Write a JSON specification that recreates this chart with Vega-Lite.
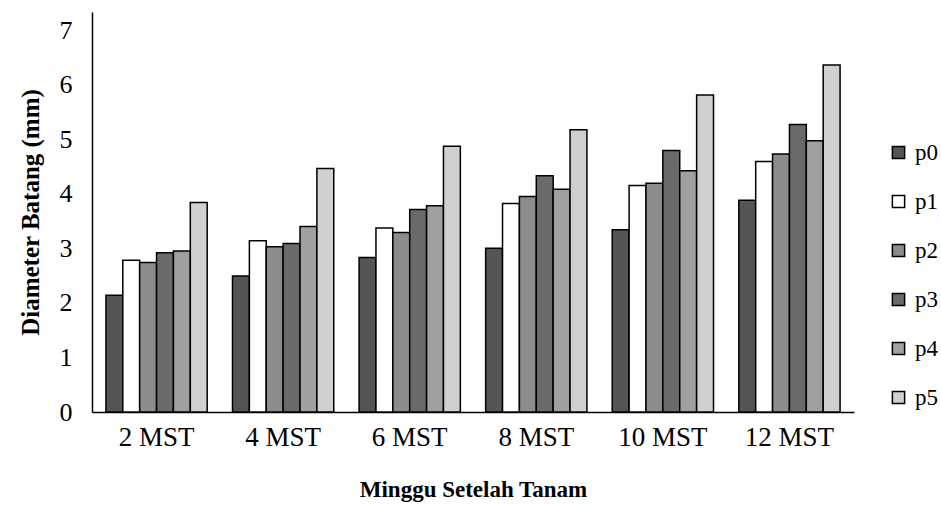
{
  "$schema": "https://vega.github.io/schema/vega-lite/v6.json",
  "width": 762,
  "height": 400,
  "autosize": {"type": "none"},
  "padding": {"left": 92, "top": 12, "right": 87, "bottom": 94},
  "background": "white",
  "config": {
    "view": {"stroke": null},
    "font": "Liberation Serif"
  },
  "data": {
    "values": [
      {"week": "2 MST", "p": "p0", "v": 2.14},
      {"week": "2 MST", "p": "p1", "v": 2.78},
      {"week": "2 MST", "p": "p2", "v": 2.74},
      {"week": "2 MST", "p": "p3", "v": 2.92},
      {"week": "2 MST", "p": "p4", "v": 2.95},
      {"week": "2 MST", "p": "p5", "v": 3.84},
      {"week": "4 MST", "p": "p0", "v": 2.49},
      {"week": "4 MST", "p": "p1", "v": 3.14},
      {"week": "4 MST", "p": "p2", "v": 3.03},
      {"week": "4 MST", "p": "p3", "v": 3.09},
      {"week": "4 MST", "p": "p4", "v": 3.40},
      {"week": "4 MST", "p": "p5", "v": 4.46},
      {"week": "6 MST", "p": "p0", "v": 2.83},
      {"week": "6 MST", "p": "p1", "v": 3.37},
      {"week": "6 MST", "p": "p2", "v": 3.29},
      {"week": "6 MST", "p": "p3", "v": 3.71},
      {"week": "6 MST", "p": "p4", "v": 3.78},
      {"week": "6 MST", "p": "p5", "v": 4.87},
      {"week": "8 MST", "p": "p0", "v": 3.00},
      {"week": "8 MST", "p": "p1", "v": 3.82},
      {"week": "8 MST", "p": "p2", "v": 3.95},
      {"week": "8 MST", "p": "p3", "v": 4.33},
      {"week": "8 MST", "p": "p4", "v": 4.08},
      {"week": "8 MST", "p": "p5", "v": 5.17},
      {"week": "10 MST", "p": "p0", "v": 3.34},
      {"week": "10 MST", "p": "p1", "v": 4.15},
      {"week": "10 MST", "p": "p2", "v": 4.19},
      {"week": "10 MST", "p": "p3", "v": 4.79},
      {"week": "10 MST", "p": "p4", "v": 4.42},
      {"week": "10 MST", "p": "p5", "v": 5.81},
      {"week": "12 MST", "p": "p0", "v": 3.88},
      {"week": "12 MST", "p": "p1", "v": 4.59},
      {"week": "12 MST", "p": "p2", "v": 4.73},
      {"week": "12 MST", "p": "p3", "v": 5.27},
      {"week": "12 MST", "p": "p4", "v": 4.97},
      {"week": "12 MST", "p": "p5", "v": 6.36}
    ]
  },
  "mark": {"type": "bar", "stroke": "black", "strokeWidth": 1.5},
  "encoding": {
    "x": {
      "field": "week",
      "type": "nominal",
      "sort": null,
      "scale": {"paddingInner": 0.2, "paddingOuter": 0.11},
      "axis": {
        "title": "Minggu Setelah Tanam",
        "titleFont": "Liberation Serif",
        "titleFontSize": 23,
        "titleFontWeight": "bold",
        "titleColor": "black",
        "titlePadding": 28,
        "labelAngle": 0,
        "labelFont": "Liberation Serif",
        "labelFontSize": 27,
        "labelColor": "black",
        "labelPadding": 12,
        "ticks": false,
        "domainColor": "black",
        "domainWidth": 1.5
      }
    },
    "xOffset": {"field": "p", "type": "nominal", "scale": {"paddingInner": 0}},
    "y": {
      "field": "v",
      "type": "quantitative",
      "scale": {"domain": [0, 7.33], "nice": false},
      "axis": {
        "title": "Diameter Batang (mm)",
        "titleFont": "Liberation Serif",
        "titleFontSize": 25,
        "titleFontWeight": "bold",
        "titleColor": "black",
        "titlePadding": 16,
        "values": [0, 1, 2, 3, 4, 5, 6, 7],
        "grid": false,
        "ticks": false,
        "labelFont": "Liberation Serif",
        "labelFontSize": 26,
        "labelColor": "black",
        "labelPadding": 20,
        "domainColor": "black",
        "domainWidth": 1.5
      }
    },
    "fill": {
      "field": "p",
      "type": "nominal",
      "scale": {"range": ["#555555", "#ffffff", "#8c8c8c", "#6a6a6a", "#a0a0a0", "#d0d0d0"]},
      "legend": {
        "title": null,
        "orient": "none",
        "legendX": 795,
        "legendY": 129,
        "symbolType": "square",
        "symbolSize": 150,
        "symbolStrokeColor": "black",
        "symbolStrokeWidth": 1.5,
        "labelFont": "Liberation Serif",
        "labelFontSize": 23,
        "labelColor": "black",
        "labelOffset": 5,
        "rowPadding": 25,
        "padding": 0
      }
    }
  }
}
